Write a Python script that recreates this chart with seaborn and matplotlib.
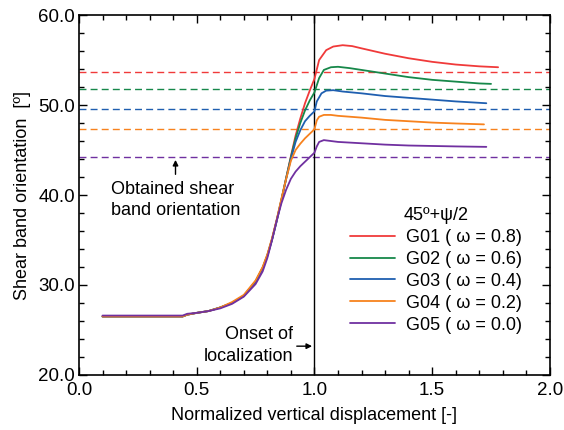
import numpy as np
import pandas as pd
import matplotlib
matplotlib.use("Agg")
import matplotlib.pyplot as plt
from matplotlib.ticker import MultipleLocator, FormatStrFormatter
import seaborn as sns

# ---- data ----
series_names = ["G01 ( \u03c9 = 0.8)", "G02 ( \u03c9 = 0.6)", "G03 ( \u03c9 = 0.4)",
                "G04 ( \u03c9 = 0.2)", "G05 ( \u03c9 = 0.0)"]
colors = ["#f03a3a", "#17884a", "#1f5fb0", "#f7821e", "#7030a0"]

# theoretical 45+psi/2 (dashed lines)
theory = [53.7, 51.8, 49.6, 47.3, 44.2]
onset_x = 1.0

x_pre = [0.10, 0.44, 0.46, 0.50, 0.55, 0.60, 0.65, 0.70, 0.75, 0.78, 0.80,
         0.82, 0.84, 0.86, 0.88, 0.90, 0.92, 0.94, 0.96, 0.98, 1.00]

g01_pre = [26.5, 26.5, 26.7, 26.9, 27.1, 27.5, 28.0, 28.8, 30.4, 31.9, 33.3,
           35.1, 37.2, 39.5, 41.9, 44.3, 46.6, 48.5, 50.2, 51.6, 52.9]
g02_pre = [26.5, 26.5, 26.7, 26.9, 27.1, 27.5, 28.0, 28.8, 30.4, 31.9, 33.3,
           35.1, 37.2, 39.5, 41.9, 44.2, 46.3, 48.0, 49.4, 50.5, 51.4]
g03_pre = [26.5, 26.5, 26.7, 26.9, 27.1, 27.5, 28.0, 28.8, 30.3, 31.8, 33.2,
           35.0, 37.1, 39.4, 41.8, 44.0, 45.9, 47.2, 48.2, 48.8, 49.3]
g04_pre = [26.5, 26.5, 26.7, 26.9, 27.1, 27.5, 28.1, 28.9, 30.5, 32.0, 33.4,
           35.2, 37.3, 39.6, 41.8, 43.8, 45.0, 45.7, 46.3, 46.8, 47.3]
g05_pre = [26.6, 26.6, 26.8, 26.9, 27.1, 27.4, 27.9, 28.7, 30.1, 31.5, 33.0,
           35.0, 37.2, 39.1, 40.6, 41.8, 42.6, 43.2, 43.7, 44.2, 44.7]

g01_post_x = [1.02, 1.05, 1.08, 1.12, 1.16, 1.20, 1.30, 1.40, 1.50, 1.60, 1.70, 1.78]
g01_post = [55.0, 56.1, 56.5, 56.65, 56.55, 56.3, 55.7, 55.2, 54.8, 54.5, 54.3, 54.2]
g02_post_x = [1.02, 1.04, 1.07, 1.10, 1.15, 1.20, 1.30, 1.40, 1.50, 1.60, 1.70, 1.75]
g02_post = [53.0, 53.9, 54.2, 54.25, 54.1, 53.9, 53.5, 53.1, 52.8, 52.6, 52.4, 52.35]
g03_post_x = [1.01, 1.03, 1.05, 1.08, 1.12, 1.20, 1.30, 1.40, 1.50, 1.60, 1.73]
g03_post = [50.4, 51.3, 51.6, 51.65, 51.5, 51.3, 51.0, 50.8, 50.6, 50.4, 50.2]
g04_post_x = [1.01, 1.02, 1.04, 1.07, 1.10, 1.20, 1.30, 1.40, 1.50, 1.60, 1.72]
g04_post = [48.3, 48.7, 48.9, 48.9, 48.8, 48.6, 48.35, 48.2, 48.05, 47.95, 47.85]
g05_post_x = [1.01, 1.02, 1.04, 1.07, 1.10, 1.20, 1.30, 1.40, 1.50, 1.60, 1.73]
g05_post = [45.4, 45.9, 46.1, 46.0, 45.9, 45.75, 45.6, 45.5, 45.45, 45.4, 45.35]

pre = [g01_pre, g02_pre, g03_pre, g04_pre, g05_pre]
post_x = [g01_post_x, g02_post_x, g03_post_x, g04_post_x, g05_post_x]
post = [g01_post, g02_post, g03_post, g04_post, g05_post]

rows = []
for name, yp, xq, yq in zip(series_names, pre, post_x, post):
    for xv, yv in zip(x_pre + xq, yp + yq):
        rows.append({"disp": xv, "angle": yv, "specimen": name})
df = pd.DataFrame(rows)

# ---- plot ----
sns.set_style("ticks", {"axes.edgecolor": "black", "xtick.color": "black",
                        "ytick.color": "black", "text.color": "black",
                        "axes.labelcolor": "black"})
plt.rcParams["font.family"] = ["Liberation Sans", "DejaVu Sans"]
plt.rcParams["font.size"] = 13

fig = plt.figure(figsize=(5.64, 4.30), dpi=100)
ax = fig.add_axes([0.140, 0.128, 0.835, 0.837])

for val, c in zip(theory, colors):
    ax.axhline(val, color=c, lw=1.0, ls=(0, (5, 3)), zorder=1)
ax.axvline(onset_x, color="black", lw=1.0, zorder=1)

sns.lineplot(data=df, x="disp", y="angle", hue="specimen", palette=colors,
             hue_order=series_names, sort=False, estimator=None, lw=1.3,
             ax=ax, zorder=3)

ax.set_xlim(0, 2.0)
ax.set_ylim(20, 60)
ax.xaxis.set_major_locator(MultipleLocator(0.5))
ax.xaxis.set_minor_locator(MultipleLocator(0.1))
ax.yaxis.set_major_locator(MultipleLocator(10))
ax.yaxis.set_minor_locator(MultipleLocator(2))
ax.xaxis.set_major_formatter(FormatStrFormatter("%.1f"))
ax.yaxis.set_major_formatter(FormatStrFormatter("%.1f"))
ax.tick_params(which="both", direction="in", top=True, right=True, width=1.0)
ax.tick_params(which="major", length=6, labelsize=13.5)
ax.tick_params(axis="y", which="major", pad=3)
ax.tick_params(axis="x", which="major", pad=5)
ax.tick_params(which="minor", length=3.5)
for s in ax.spines.values():
    s.set_linewidth(1.2)

ax.set_xlabel("Normalized vertical displacement [-]", fontsize=13, labelpad=6)
ax.set_ylabel("Shear band orientation  [\u00ba]", fontsize=13, labelpad=5)

arrow_kw = dict(arrowstyle="-|>", color="black", lw=1.0, mutation_scale=8,
                shrinkA=0, shrinkB=0)
ax.annotate("", xy=(0.41, 43.9), xytext=(0.41, 42.3), arrowprops=arrow_kw)
ax.text(0.135, 41.6, "Obtained shear\nband orientation", fontsize=13,
        ha="left", va="top", linespacing=1.35)

ax.text(0.91, 25.4, "Onset of\nlocalization", fontsize=13, ha="right",
        va="top", linespacing=1.35)
ax.annotate("", xy=(0.99, 23.2), xytext=(0.925, 23.2), arrowprops=arrow_kw)

leg = ax.legend(title="45\u00ba+\u03c8/2", loc="lower right",
                bbox_to_anchor=(0.975, 0.07), frameon=False, fontsize=13,
                title_fontsize=13, handlelength=2.5, handletextpad=0.6,
                labelspacing=0.27)
for line in leg.get_lines():
    line.set_linewidth(1.3)

fig.savefig("out.png", dpi=100, facecolor="white")
